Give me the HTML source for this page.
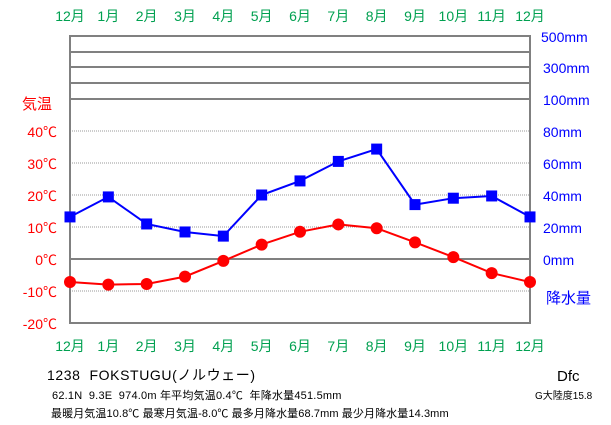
<!DOCTYPE html>
<html><head><meta charset="utf-8"><style>
body{margin:0;background:#fff;}
svg{display:block;font-family:"Liberation Sans","Noto Sans CJK JP",sans-serif;}
</style></head><body>
<svg id="chart" width="611" height="425" viewBox="0 0 611 425">
<rect width="611" height="425" fill="#fff"/>
<g id="grid"></g>
<g id="labels"></g>
<g id="series"></g>
<text x="22" y="109" font-size="15" fill="#f00">気温</text>
<text x="546" y="303" font-size="15" fill="#00f">降水量</text>
<g font-size="13" fill="#000" style="white-space:pre">
<text x="47" y="380" font-size="14" xml:space="preserve" letter-spacing="0.6">1238  FOKSTUGU(ノルウェー)</text>
<text x="52" y="399" font-size="11" xml:space="preserve" letter-spacing="0.2">62.1N  9.3E  974.0m 年平均気温0.4℃  年降水量451.5mm</text>
<text x="51" y="417" font-size="11" letter-spacing="0.1">最暖月気温10.8℃ 最寒月気温-8.0℃ 最多月降水量68.7mm 最少月降水量14.3mm</text>
<text x="557" y="381" font-size="15">Dfc</text>
<text x="535" y="399" font-size="10">G大陸度15.8</text>
</g>
</svg>
<script>
const months=["12月","1月","2月","3月","4月","5月","6月","7月","8月","9月","10月","11月","12月"];
const temps=[-7.2,-8.0,-7.8,-5.5,-0.6,4.5,8.5,10.8,9.6,5.2,0.6,-4.4,-7.2];
const precip=[26.3,38.8,21.9,16.9,14.3,40.0,48.8,61.0,68.7,34.0,38.0,39.4,26.3];
const tempTicks=[40,30,20,10,0,-10,-20];
const precipTicks=[80,60,40,20,0];
const precipUpper=["500mm","300mm","100mm"];
const NS="http://www.w3.org/2000/svg";
const L=70,R=530;
const xS=i=>L+i*(R-L)/12;
const yT=t=>259-t*3.2;
const yP=p=>259-p*1.6;
function mk(tag,attrs,parent){const e=document.createElementNS(NS,tag);for(const k in attrs)e.setAttribute(k,attrs[k]);parent.appendChild(e);return e;}
const grid=document.getElementById('grid'),lab=document.getElementById('labels'),ser=document.getElementById('series');
tempTicks.forEach(t=>{if(t!==0&&t!==-20){const l=mk('line',{x1:L,x2:R,y1:yT(t),y2:yT(t),stroke:'#999','stroke-dasharray':'1,1'},grid);

}});
[36,52,67,83,99].forEach(y=>{const l=mk('line',{x1:L,x2:R,y1:y,y2:y,stroke:'#808080','stroke-width':2},grid);

});
const z=mk('line',{x1:L,x2:R,y1:yT(0),y2:yT(0),stroke:'#808080','stroke-width':2},grid);


const fr=mk('rect',{x:L,y:36,width:R-L,height:yT(-20)-36,fill:'none',stroke:'#808080','stroke-width':2},grid);


tempTicks.forEach(t=>{const e=mk('text',{x:57,y:yT(t)+6,'font-size':14,fill:'#f00','text-anchor':'end'},lab);e.textContent=t+'℃';

});
precipTicks.forEach(p=>{const e=mk('text',{x:543,y:yP(p)+6,'font-size':14,fill:'#00f'},lab);e.textContent=p+'mm';

});
[42,73,105].forEach((y,i)=>{const e=mk('text',{x:i==0?541:543,y:y,'font-size':14,fill:'#00f'},lab);e.textContent=precipUpper[i];

});
months.forEach((m,i)=>{[21,351].forEach(y=>{const e=mk('text',{x:xS(i),y:y,'font-size':14,fill:'#00a050','text-anchor':'middle'},lab);e.textContent=m;

});});
const pl=mk('polyline',{points:precip.map((p,i)=>xS(i)+','+yP(p)).join(' '),fill:'none',stroke:'#00f','stroke-width':2},ser);


precip.forEach((p,i)=>{const r=mk('rect',{x:xS(i)-5.5,y:yP(p)-5.5,width:11,height:11,fill:'#00f'},ser);

});
const tl=mk('polyline',{points:temps.map((t,i)=>xS(i)+','+yT(t)).join(' '),fill:'none',stroke:'#f00','stroke-width':2},ser);


temps.forEach((t,i)=>{const c=mk('circle',{cx:xS(i),cy:yT(t),r:6,fill:'#f00'},ser);

});
</script>
</body></html>
